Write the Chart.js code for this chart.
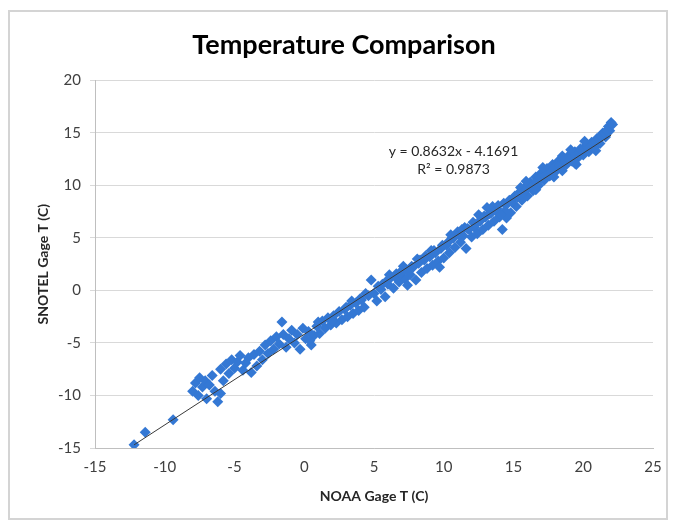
<!DOCTYPE html>
<html>
<head>
<meta charset="utf-8">
<title>Temperature Comparison</title>
<script src="https://cdn.jsdelivr.net/npm/chart.js"></script>
<style>
  html, body { margin: 0; padding: 0; background: #ffffff; }
  #wrap { width: 674px; height: 527px; }
</style>
</head>
<body>
<div id="wrap"><canvas id="myChart" width="674" height="527"></canvas></div>
<script>
// NOAA gage temperature (x) and SNOTEL gage temperature (y), paired by index
const noaaT = [
  -12.2, -11.4, -9.4, -8.0, -7.8, -7.6, -7.5, -7.3, -7.1, -7.0, -6.8, -6.6, -6.4, -6.2, -6.0, -6.0, -5.8,
  -5.6, -5.4, -5.2, -5.0, -4.8, -4.6, -4.4, -4.2, -4.0, -3.8, -3.6, -3.4, -3.2, -3.0, -2.8, -2.6, -2.4, -2.2, -2.0,
  -1.8, -1.6, -1.5, -1.3, -1.1, -0.9, -0.7, -0.5, -0.3, -0.1,
  0.1, 0.3, 0.5, 0.7, 0.9, 1.1, 1.3, 1.5, 1.7, 1.9, 2.1, 2.3, 2.5, 2.7, 2.9, 3.1, 3.3, 3.5, 3.7, 3.9,
  4.1, 4.3, 4.6, 4.8, 5.0, 0.4, 1.0, 2.0, 3.0, 4.0,
  5.2, 5.5, 5.8, 6.0, 6.2, 6.4, 6.6, 6.8, 7.0, 7.2, 7.4, 7.6, 7.8, 8.0, 8.2, 8.4, 8.6, 8.8, 9.0, 9.2,
  9.4, 9.6, 9.8, 10.0, 6.1, 7.1, 8.1, 9.1, 9.7, 5.6,
  10.2, 10.4, 10.6, 10.8, 11.0, 11.2, 11.4, 11.6, 11.8, 12.0, 12.2, 12.4, 12.6, 12.8, 13.0, 13.2,
  13.4, 13.6, 13.8, 14.0, 14.2, 14.4, 14.6, 14.8, 15.0, 10.5, 11.5, 12.5, 13.5, 14.5, 13.1, 12.1,
  15.2, 15.4, 15.6, 15.8, 16.0, 16.2, 16.4, 16.6, 16.8, 17.0, 17.2, 17.4, 17.6, 17.8, 18.0, 18.2,
  18.4, 18.6, 18.8, 19.0, 19.2, 19.4, 19.6, 19.8, 20.0, 20.2, 20.4, 20.6, 20.8, 21.0, 21.2, 21.4,
  21.6, 21.8, 22.0, 21.9, 15.5, 16.5, 17.5, 18.5, 19.5, 20.5, 16.1, 17.1, 18.1,
  3.4, 4.4, 5.3, 5.9, 6.5, 6.9, 7.3, 7.7, 8.3, 8.7, 9.3, 9.9, 10.3, 10.7, 11.1, 11.3, 11.7, 12.3,
  12.7, 12.9, 13.3, 13.7, 13.9, 14.3, 14.7, 14.9, 15.1, 15.3, 15.7, 15.9, 16.3, 16.7, 16.9, 17.3,
  17.7, 17.9, 18.3, 18.7, 18.9, 19.3, 19.7, 19.9, 20.3, 20.7, 20.9, 21.1, 21.3, 21.5, 21.7, 22.1,
  14.1, 15.9, 17.1, 18.5, 19.1, 20.1, 16.6, 17.9, 19.4, 20.9
];
const snotelT = [
  -14.7, -13.5, -12.3, -9.6, -8.8, -10.0, -8.3, -9.2, -8.6, -10.3, -9.0, -8.1, -9.6, -10.6, -9.8, -7.5, -8.6,
  -7.0, -7.9, -6.6, -7.4, -6.8, -6.2, -7.6, -6.9, -6.4, -7.8, -6.1, -7.2, -5.8, -6.6, -5.2, -6.0, -4.8, -5.6, -4.4,
  -5.1, -3.0, -4.2, -5.4, -4.6, -3.8, -5.0, -4.2, -5.6, -3.6,
  -4.6, -3.9, -5.2, -4.3, -3.4, -4.1, -2.9, -3.6, -2.6, -3.3, -2.4, -3.1, -2.0, -2.8, -1.8, -2.5, -1.4, -2.2, -1.2, -1.9,
  -0.9, -1.6, -0.5, 1.0, -0.3, -4.8, -3.0, -2.9, -1.6, -0.8,
  -1.0, 0.1, -0.6, 0.6, 1.2, 0.2, 1.6, 0.8, 1.9, 1.1, 0.5, 1.5, 2.2, 1.0, 2.6, 1.7, 2.9, 2.1, 3.2, 2.4,
  3.6, 2.8, 4.0, 3.1, 1.5, 2.3, 3.0, 3.8, 2.2, 0.6,
  4.3, 3.6, 5.0, 4.1, 5.6, 4.6, 5.2, 4.0, 5.8, 5.1, 6.0, 5.4, 6.6, 5.8, 7.0, 6.2,
  7.4, 6.6, 7.8, 7.0, 5.8, 7.6, 8.3, 7.4, 8.8, 5.3, 6.0, 7.2, 8.0, 6.9, 7.9, 6.5,
  8.0, 9.3, 8.6, 9.8, 9.0, 10.3, 9.5, 10.8, 10.0, 11.2, 10.5, 11.6, 10.9, 12.0, 11.3, 12.3,
  11.7, 12.6, 12.0, 12.9, 12.3, 13.2, 12.6, 13.5, 12.9, 13.8, 13.2, 14.1, 13.6, 14.5, 14.0, 15.0,
  14.6, 15.6, 16.0, 15.2, 9.8, 10.2, 11.0, 11.4, 12.0, 13.9, 10.0, 10.7, 11.9,
  -1.0, -0.3, 0.4, 0.9, 1.3, 1.6, 2.0, 2.3, 2.9, 3.3, 3.8, 4.3, 4.6, 5.0, 5.3, 5.8, 5.9, 6.3,
  6.9, 7.1, 7.3, 7.6, 8.1, 8.3, 8.6, 8.4, 9.0, 8.9, 9.3, 9.6, 9.9, 10.3, 10.7, 11.0,
  11.3, 11.6, 11.9, 12.2, 12.5, 12.8, 13.1, 13.3, 13.6, 13.9, 14.2, 14.4, 14.7, 15.0, 15.2, 15.8,
  7.2, 10.4, 11.7, 12.8, 13.4, 14.2, 9.6, 10.8, 12.1, 13.3
];
// linear trendline end points as drawn
const trendX = [-12.2, 22.0];
const trendY = [-14.7, 14.8];
const equationText = ['y = 0.8632x - 4.1691', 'R\u00b2 = 0.9873'];

const FONT = 'Lato, "Open Sans", sans-serif';

const points = noaaT.map((x, i) => ({ x: x, y: snotelT[i] }));
const trend = trendX.map((x, i) => ({ x: x, y: trendY[i] }));

const framePlugin = {
  id: 'frame',
  beforeDraw(chart) {
    const c = chart.ctx;
    c.save();
    c.fillStyle = '#ffffff';
    c.fillRect(0, 0, chart.width, chart.height);
    c.strokeStyle = '#d4d4d4';
    c.lineWidth = 2;
    c.strokeRect(9, 11, 658, 508);
    c.restore();
  }
};

const equationPlugin = {
  id: 'equation',
  afterDatasetsDraw(chart) {
    const c = chart.ctx;
    const px = chart.scales.x.getPixelForValue(10.7);
    const py = chart.scales.y.getPixelForValue(13.2);
    c.save();
    c.font = '14px ' + FONT;
    c.fillStyle = '#262626';
    c.textAlign = 'center';
    c.textBaseline = 'middle';
    c.fillText(equationText[0], px, py);
    c.fillText(equationText[1], px, py + 18);
    c.restore();
  }
};

new Chart(document.getElementById('myChart'), {
  type: 'scatter',
  data: {
    datasets: [
      {
        label: 'Trend',
        type: 'line',
        data: trend,
        borderColor: '#3a3a3a',
        borderWidth: 1,
        pointRadius: 0,
        fill: false,
        order: 0
      },
      {
        label: 'SNOTEL vs NOAA',
        data: points,
        pointStyle: 'rectRot',
        pointRadius: 5.5,
        backgroundColor: '#3478d4',
        borderColor: '#3478d4',
        borderWidth: 0,
        order: 1
      }
    ]
  },
  options: {
    responsive: false,
    animation: false,
    layout: { padding: { left: 35, right: 21, top: 0, bottom: 18 } },
    plugins: {
      legend: { display: false },
      tooltip: { enabled: false },
      title: {
        display: true,
        text: 'Temperature Comparison',
        color: '#000000',
        font: { family: FONT, size: 27, weight: 'bold' },
        padding: { top: 29, bottom: 19 }
      }
    },
    scales: {
      x: {
        type: 'linear',
        min: -15, max: 25,
        ticks: { stepSize: 5, color: '#404040', font: { family: FONT, size: 15 }, padding: 10, maxRotation: 0 },
        grid: { display: true, drawOnChartArea: false, drawTicks: false },
        border: { display: true, color: '#bfbfbf', width: 1 },
        title: { display: true, text: 'NOAA Gage T (C)', color: '#262626',
                 font: { family: FONT, size: 14, weight: 'bold' }, padding: { top: 0, bottom: 4 } },
        afterFit(scale) { scale.height = 61; }
      },
      y: {
        type: 'linear',
        min: -15, max: 20,
        ticks: { stepSize: 5, color: '#404040', font: { family: FONT, size: 15 }, padding: 9 },
        grid: { color: '#d9d9d9', lineWidth: 1, tickLength: 5, drawTicks: true },
        border: { display: true, color: '#bfbfbf', width: 1 },
        title: { display: true, text: 'SNOTEL Gage T (C)', color: '#262626',
                 font: { family: FONT, size: 14, weight: 'bold' }, padding: { top: 0, bottom: 0 } },
        afterFit(scale) { scale.width = 60; }
      }
    }
  },
  plugins: [framePlugin, equationPlugin]
});
</script>
</body>
</html>
